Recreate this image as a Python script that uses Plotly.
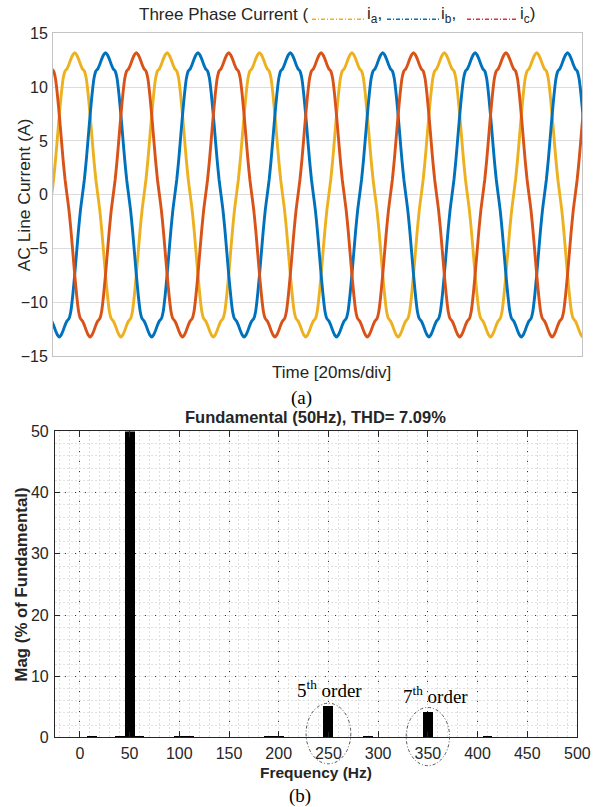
import numpy as np
import plotly.graph_objects as go

# ---------------- data ----------------
# One 20 ms cycle of each phase current (A), sampled every 20/48 ms
cycle_ms = 20.0
n_cycles = 6
ia_cycle = [0.0, 1.4, 3.2, 5.3, 7.4, 9.3, 10.8, 11.5, 11.7, 12.1, 12.6, 13.0,
            13.2, 13.0, 12.6, 12.1, 11.7, 11.5, 10.8, 9.3, 7.4, 5.3, 3.2, 1.4,
            0.0, -1.4, -3.2, -5.3, -7.4, -9.3, -10.8, -11.5, -11.7, -12.1, -12.6, -13.0,
            -13.2, -13.0, -12.6, -12.1, -11.7, -11.5, -10.8, -9.3, -7.4, -5.3, -3.2, -1.4]
ib_cycle = [-11.7, -12.1, -12.6, -13.0, -13.2, -13.0, -12.6, -12.1, -11.7, -11.5, -10.8, -9.3,
            -7.4, -5.3, -3.2, -1.4, 0.0, 1.4, 3.2, 5.3, 7.4, 9.3, 10.8, 11.5,
            11.7, 12.1, 12.6, 13.0, 13.2, 13.0, 12.6, 12.1, 11.7, 11.5, 10.8, 9.3,
            7.4, 5.3, 3.2, 1.4, 0.0, -1.4, -3.2, -5.3, -7.4, -9.3, -10.8, -11.5]
ic_cycle = [11.7, 11.5, 10.8, 9.3, 7.4, 5.3, 3.2, 1.4, 0.0, -1.4, -3.2, -5.3,
            -7.4, -9.3, -10.8, -11.5, -11.7, -12.1, -12.6, -13.0, -13.2, -13.0, -12.6, -12.1,
            -11.7, -11.5, -10.8, -9.3, -7.4, -5.3, -3.2, -1.4, 0.0, 1.4, 3.2, 5.3,
            7.4, 9.3, 10.8, 11.5, 11.7, 12.1, 12.6, 13.0, 13.2, 13.0, 12.6, 12.1]

# Harmonic spectrum (% of fundamental)
harm_freq = [12.5, 40, 50, 60, 100, 110, 190, 200, 250, 290, 350, 410]
harm_mag = [0.2, 0.12, 100, 0.12, 0.12, 0.08, 0.08, 0.2, 5.1, 0.06, 4.1, 0.08]

top_yticks = [-15, -10, -5, 0, 5, 10, 15]
bot_xticks = [0, 50, 100, 150, 200, 250, 300, 350, 400, 450, 500]
bot_yticks = [0, 10, 20, 30, 40, 50]

# ---------------- layout geometry ----------------
W, H = 600, 807
# the photographed page comes out slightly squeezed vertically; compensate
SX, BX, SY, BY = 1.0, 0.0, 0.9787, 7.7
TOP_X, TOP_Y = (53, 582), (33, 356)
BOT_X, BOT_Y = (55, 577), (431, 737)
TOP_XRANGE = [0.3, 114.8]
BOT_XRANGE = [-25, 500]
BOT_YRANGE = [0, 50]
BOT_TICKLABEL_Y = 753


def px(x):
    return min(1.0, max(0.0, (x - BX) / SX / W))


def py(y):
    return min(1.0, max(0.0, 1 - (y - BY) / SY / H))


def bot_paper(f, v):
    fx = BOT_X[0] + (f - BOT_XRANGE[0]) / (BOT_XRANGE[1] - BOT_XRANGE[0]) * (BOT_X[1] - BOT_X[0])
    fy = BOT_Y[1] - (v - BOT_YRANGE[0]) / (BOT_YRANGE[1] - BOT_YRANGE[0]) * (BOT_Y[1] - BOT_Y[0])
    return px(fx), py(fy)


step = cycle_ms / len(ia_cycle)
n = len(ia_cycle) * n_cycles
t = np.arange(n + 1) * step
ia = np.append(np.tile(ia_cycle, n_cycles), ia_cycle[0])
ib = np.append(np.tile(ib_cycle, n_cycles), ib_cycle[0])
ic = np.append(np.tile(ic_cycle, n_cycles), ic_cycle[0])

C_A, C_B, C_C = "#EDB120", "#0072BD", "#D95319"
TXT = "#262626"
SANS = "Liberation Sans, Arial, sans-serif"
SERIF = "Liberation Serif, Times New Roman, serif"

fig = go.Figure()
for y, c in [(ia, C_A), (ib, C_B), (ic, C_C)]:
    fig.add_trace(go.Scatter(x=t, y=y, mode="lines", line=dict(color=c, width=2.9, shape="spline", smoothing=0.5),
                             xaxis="x", yaxis="y", showlegend=False, hoverinfo="skip"))

fig.add_trace(go.Bar(x=harm_freq, y=harm_mag, width=10, marker=dict(color="black", line=dict(width=0)),
                     xaxis="x2", yaxis="y2", showlegend=False, hoverinfo="skip"))

# the last x tick label sits at the very edge; it is drawn as a separate text below
inner_xticks = bot_xticks[:-1]

fig.update_layout(
    width=W, height=H, margin=dict(l=0, r=0, t=0, b=0),
    paper_bgcolor="white", plot_bgcolor="white",
    font=dict(family=SANS, color=TXT, size=16),
    xaxis=dict(domain=[px(TOP_X[0]), px(TOP_X[1])], anchor="y", range=TOP_XRANGE,
               showticklabels=False, ticks="", showgrid=False, zeroline=False,
               showline=True, mirror=True, linecolor="#c4c4c4", linewidth=1),
    yaxis=dict(domain=[py(TOP_Y[1]), py(TOP_Y[0])], anchor="x", range=[-15, 15],
               tickvals=top_yticks, ticks="", showgrid=True, gridcolor="#dcdcdc", gridwidth=1,
               zeroline=False, showline=True, mirror=True, linecolor="#c4c4c4", linewidth=1,
               tickfont=dict(size=16, color=TXT), ticklabelstandoff=1),
    xaxis2=dict(domain=[px(BOT_X[0]), px(BOT_X[1])], anchor="y2", range=BOT_XRANGE,
                tickvals=inner_xticks, ticks="inside", ticklen=5, tickcolor=TXT, tickwidth=1,
                showgrid=True, gridcolor="#333333", griddash="1px,9px", gridwidth=1,
                minor=dict(dtick=10, tick0=0, showgrid=True, gridcolor="#e0e0e0", griddash="2px,2px", gridwidth=1),
                zeroline=False, showline=True, mirror="ticks", linecolor=TXT, linewidth=1.2,
                tickfont=dict(size=16, color=TXT), ticklabelstandoff=1),
    yaxis2=dict(domain=[py(BOT_Y[1]), py(BOT_Y[0])], anchor="x2", range=BOT_YRANGE,
                tickvals=bot_yticks, ticks="inside", ticklen=5, tickcolor=TXT, tickwidth=1,
                showgrid=True, gridcolor="#333333", griddash="1px,9px", gridwidth=1,
                minor=dict(dtick=2, tick0=0, showgrid=True, gridcolor="#e0e0e0", griddash="2px,2px", gridwidth=1),
                zeroline=False, showline=True, mirror="ticks", linecolor=TXT, linewidth=1.2,
                tickfont=dict(size=16, color=TXT), ticklabelstandoff=2),
    bargap=0,
)

ann = []
# top title pieces
ann.append(dict(text="Three Phase Current (", x=px(310), y=py(14), xanchor="right", yanchor="middle",
                font=dict(size=17, color=TXT, family=SANS)))
ann.append(dict(text="i<sub>a</sub>,", x=px(365), y=py(15), xanchor="left", yanchor="middle",
                font=dict(size=17, color=TXT, family=SANS)))
ann.append(dict(text="i<sub>b</sub>,", x=px(439), y=py(15), xanchor="left", yanchor="middle",
                font=dict(size=17, color=TXT, family=SANS)))
ann.append(dict(text="i<sub>c</sub>)", x=px(518), y=py(15), xanchor="left", yanchor="middle",
                font=dict(size=17, color=TXT, family=SANS)))
# top axis titles
ann.append(dict(text="AC Line Current (A)", x=px(24), y=py(195), textangle=-90, xanchor="center", yanchor="middle",
                font=dict(size=17.4, color=TXT, family=SANS)))
ann.append(dict(text="Time [20ms/div]", x=px(331), y=py(372), xanchor="center", yanchor="middle",
                font=dict(size=17, color=TXT, family=SANS)))
ann.append(dict(text="(a)", x=px(301), y=py(398), xanchor="center", yanchor="middle",
                font=dict(size=19, color="black", family=SERIF)))
# bottom
ann.append(dict(text="<b>Fundamental (50Hz), THD= 7.09%</b>", x=px(316), y=py(417), xanchor="center",
                yanchor="middle", font=dict(size=16.5, color=TXT, family=SANS)))
ann.append(dict(text="<b>Mag (% of Fundamental)</b>", x=px(21), y=py(584), textangle=-90, xanchor="center",
                yanchor="middle", font=dict(size=16.8, color=TXT, family=SANS)))
ann.append(dict(text="<b>Frequency (Hz)</b>", x=px(316), y=py(772), xanchor="center", yanchor="middle",
                font=dict(size=15.5, color=TXT, family=SANS)))
ann.append(dict(text="(b)", x=px(300), y=py(796), xanchor="center", yanchor="middle",
                font=dict(size=19, color="black", family=SERIF)))
ann.append(dict(text="5<sup>th</sup> order", x=251, y=7.9, xref="x2", yref="y2", xanchor="center",
                yanchor="middle", font=dict(size=19, color="black", family=SERIF)))
ann.append(dict(text="7<sup>th</sup> order", x=358, y=6.9, xref="x2", yref="y2", xanchor="center",
                yanchor="middle", font=dict(size=19, color="black", family=SERIF)))
ann.append(dict(text=str(bot_xticks[-1]), x=bot_xticks[-1], y=py(BOT_TICKLABEL_Y), xref="x2", yref="paper",
                xanchor="center", yanchor="middle", font=dict(size=16, color=TXT, family=SANS)))
for a in ann:
    a.setdefault("xref", "paper")
    a.setdefault("yref", "paper")
    a["showarrow"] = False
fig.update_layout(annotations=ann)

shapes = []
# legend-like dashed samples in the title
for (x0, x1), c in [((312, 364), C_A), ((387, 439), C_B), ((467, 518), "#E0303A")]:
    shapes.append(dict(type="line", xref="paper", yref="paper", x0=px(x0), x1=px(x1), y0=py(19), y1=py(19),
                       line=dict(color=c, width=1.5, dash="4px,2px,1px,2px")))
# dashed ellipses around the 5th and 7th harmonic bars
for fc, hw, vlo, vhi in [(250, 22.5, -4.3, 5.6), (350, 21.8, -4.6, 4.9)]:
    x0, y0 = bot_paper(fc - hw, vlo)
    x1, y1 = bot_paper(fc + hw, vhi)
    shapes.append(dict(type="circle", xref="paper", yref="paper", x0=x0, x1=x1, y0=y0, y1=y1,
                       line=dict(color="#555555", width=1, dash="3px,2px,1px,2px")))
fig.update_layout(shapes=shapes)

page_css = ("document.documentElement.style.margin='0';document.body.style.margin='0';"
            "document.body.style.padding='0';document.documentElement.style.overflow='hidden';"
            "document.body.style.overflow='hidden';")
fig.write_html("out.html", post_script=page_css, config={"displayModeBar": False})
